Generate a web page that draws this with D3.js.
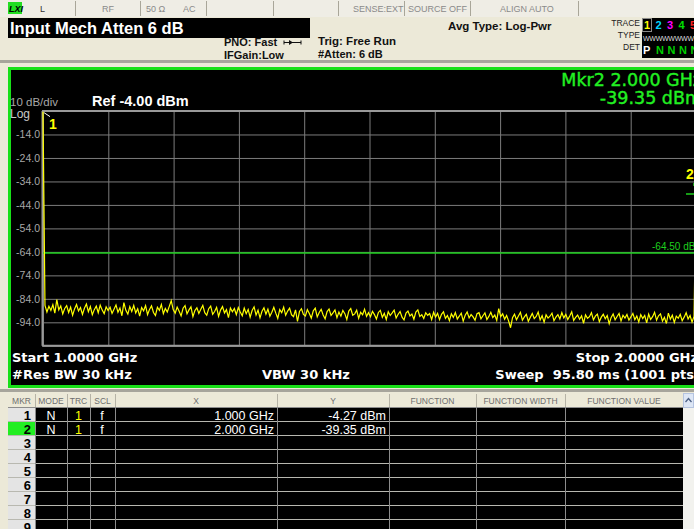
<!DOCTYPE html>
<html><head><meta charset="utf-8">
<script src="https://cdn.jsdelivr.net/npm/d3@7"></script>
<style>
html,body{margin:0;padding:0;background:#ECE9D8;overflow:hidden}
svg{display:block}
text{white-space:pre}
</style></head><body>
<svg id="c" width="694" height="529"></svg>
<script>
// ---------- data ----------
const startFreqGHz = 1.0, stopFreqGHz = 2.0;
const yDomain = [-104, -4];               // ref level -4 dBm, 10 dB/div
const yTickValues = [-14, -24, -34, -44, -54, -64, -74, -84, -94];
const yGridValues = [-4, -14, -24, -34, -44, -54, -64, -74, -84, -94, -104];
const xGridValues = [1.0, 1.1, 1.2, 1.3, 1.4, 1.5, 1.6, 1.7, 1.8, 1.9, 2.0];
const displayLineDbm = -64.5;
const traceValues = [
  -4.27,
  -86.8,-89.6,-87.2,-88.9,-86.5,-90.1,-84.3,-88.7,-87.0,-90.4,-88.1,-86.9,-89.8,-87.5,-91.0,-88.3,-86.4,-89.2,-87.7,-90.6,-88.0,-86.2,-89.5,-87.3,-90.8,-88.6,-87.1,-89.9,-86.7,-88.8,-90.3,-87.4,-89.0,
  -87.6,-90.2,-88.4,-86.6,-89.7,-87.9,-91.2,-85.6,-88.9,-90.5,-87.3,-89.4,-86.8,-90.0,-88.2,-91.4,-87.7,-89.1,-86.9,-90.7,-88.5,-87.0,-89.8,-91.1,-87.6,-88.9,-86.4,-90.3,-88.1,-89.6,-87.2,-84.8,-88.6,
  -90.1,-87.5,-89.3,-91.3,-88.0,-86.9,-90.4,-88.7,-87.4,-91.6,-89.0,-87.8,-90.2,-88.4,-86.8,-89.9,-91.0,-88.2,-87.1,-90.6,-89.4,-87.6,-91.5,-88.8,-87.3,-90.0,-88.6,-92.0,-87.9,-89.5,-88.1,-90.7,-87.7,
  -89.6,-91.2,-87.9,-90.3,-88.5,-91.8,-89.0,-87.4,-90.9,-88.8,-92.1,-89.3,-87.8,-90.5,-88.4,-91.4,-89.7,-87.6,-90.1,-92.3,-88.6,-89.9,-87.5,-91.0,-89.2,-88.0,-90.8,-91.6,-88.7,-93.6,-89.4,-88.2,-90.6,
  -91.3,-88.6,-90.2,-92.2,-89.1,-88.0,-91.7,-89.8,-88.5,-90.9,-92.5,-89.4,-88.3,-91.1,-90.0,-88.7,-92.0,-89.6,-91.4,-88.9,-90.3,-92.8,-89.2,-88.1,-91.0,-90.4,-88.8,-92.3,-89.7,-90.8,-88.4,-91.5,-89.9,
  -91.6,-89.3,-90.7,-92.6,-89.8,-88.9,-91.9,-90.2,-92.8,-89.5,-91.1,-90.0,-88.8,-92.2,-90.6,-89.4,-91.8,-93.0,-90.1,-89.2,-91.3,-90.5,-92.7,-89.6,-88.7,-91.5,-90.8,-92.4,-89.9,-91.0,-90.3,-92.9,-89.7,
  -91.8,-90.2,-92.9,-90.6,-89.5,-92.3,-91.1,-93.3,-90.4,-91.9,-89.8,-92.6,-91.4,-90.1,-93.5,-91.0,-89.6,-92.1,-90.7,-91.7,-93.1,-90.3,-89.9,-92.5,-91.2,-90.0,-92.8,-91.5,-89.7,-92.0,-90.9,-93.2,-88.2,
  -91.6,-90.4,-92.7,-91.1,-93.4,-96.3,-92.0,-90.5,-92.9,-91.3,-89.8,-93.1,-91.7,-90.6,-93.6,-91.9,-90.2,-92.4,-91.5,-89.6,-93.0,-91.2,-93.9,-90.8,-92.2,-91.4,-90.1,-93.3,-91.8,-90.7,-92.6,-89.9,-92.1,
  -90.6,-92.8,-91.3,-89.5,-93.2,-91.9,-90.9,-92.7,-91.2,-94.4,-90.8,-92.3,-91.6,-89.9,-93.0,-91.4,-90.5,-93.7,-91.8,-90.6,-92.5,-91.1,-94.6,-91.9,-90.4,-92.9,-91.5,-90.2,-93.4,-91.0,-92.2,-90.7,-93.1,
  -91.7,-90.2,-92.9,-91.3,-93.8,-90.7,-92.4,-91.1,-94.2,-90.5,-92.8,-91.6,-89.7,-93.1,-91.2,-90.4,-93.5,-91.9,-94.5,-90.1,-92.7,-91.0,-94.0,-91.4,-92.3,-90.6,-93.3,-91.8,-89.9,-92.6,-91.1,-93.9,-91.5,
  -39.35
];
const markerIds   = [1, 2];
const markerFreqs = [1.000, 2.000];
const markerAmps  = [-4.27, -39.35];
const tableHeaders = ["MKR", "MODE", "TRC", "SCL", "X", "Y", "FUNCTION", "FUNCTION WIDTH", "FUNCTION VALUE"];
const tableRowIds  = [1, 2, 3, 4, 5, 6, 7, 8, 9];
const tableModes   = ["N", "N"];
const tableTraces  = ["1", "1"];
const tableScales  = ["f", "f"];
const tableX       = ["1.000 GHz", "2.000 GHz"];
const tableY       = ["-4.27 dBm", "-39.35 dBm"];

// ---------- drawing ----------
const svg = d3.select("#c");
const SANS = "'Liberation Sans', Arial, sans-serif";
const DJ = "'DejaVu Sans', Verdana, sans-serif";
const BG = "#ECE9D8";

svg.append("rect").attr("width", 694).attr("height", 529).attr("fill", BG);

// --- top status row
svg.append("rect").attr("x", 0).attr("y", 0).attr("width", 694).attr("height", 17).attr("fill", "#EFEDE5");
[75, 140, 206, 273, 338, 404, 470, 578].forEach(xx => {
  svg.append("line").attr("x1", xx + .5).attr("x2", xx + .5).attr("y1", 1).attr("y2", 16)
    .attr("stroke", "#A9A699");
});
svg.append("rect").attr("x", 8).attr("y", 2).attr("width", 14).attr("height", 12).attr("fill", "#22DD22");
svg.append("text").attr("x", 9).attr("y", 12).text("LXI")
  .attr("font-family", SANS).attr("font-size", 9).attr("font-weight", "bold").attr("font-style", "italic").attr("fill", "#000");
const statusTexts = [["L", 40], ["RF", 102], ["50 Ω", 146], ["AC", 183], ["SENSE:EXT", 353], ["SOURCE OFF", 408], ["ALIGN AUTO", 500]];
statusTexts.forEach(([t, xx]) => {
  svg.append("text").attr("x", xx).attr("y", 12).text(t)
    .attr("font-family", SANS).attr("font-size", 9).attr("fill", t === "L" ? "#333" : "#8A8A8A");
});

// --- title box
svg.append("rect").attr("x", 8).attr("y", 18).attr("width", 302).attr("height", 20).attr("fill", "#000");
svg.append("text").attr("x", 10).attr("y", 34).text("Input Mech Atten 6 dB")
  .attr("font-family", SANS).attr("font-size", 16.5).attr("font-weight", "bold").attr("fill", "#fff");

function hdr(t, xx, yy, size, anchor) {
  svg.append("text").attr("x", xx).attr("y", yy).text(t)
    .attr("font-family", SANS).attr("font-size", size).attr("font-weight", "bold")
    .attr("text-anchor", anchor || "start").attr("fill", "#111");
}
hdr("PNO: Fast", 224, 46, 11);
hdr("IFGain:Low", 224, 59, 11);
hdr("Trig: Free Run", 318, 45, 11.5);
hdr("#Atten: 6 dB", 318, 58, 11);
hdr("Avg Type: Log-Pwr", 448, 30, 11.5);
// arrow icon
svg.append("line").attr("x1", 284).attr("x2", 301).attr("y1", 42.5).attr("y2", 42.5).attr("stroke", "#111");
svg.append("path").attr("d", "M289,40 L293,42.5 L289,45 Z").attr("fill", "#111");
svg.append("path").attr("d", "M284,40.5 L284,44.5 M301,40.5 L301,44.5").attr("stroke", "#111");

// trace info box
[["TRACE", 26], ["TYPE", 38], ["DET", 50]].forEach(([t, yy]) => {
  svg.append("text").attr("x", 640).attr("y", yy).text(t).attr("text-anchor", "end")
    .attr("font-family", SANS).attr("font-size", 8.5).attr("fill", "#222");
});
svg.append("rect").attr("x", 642).attr("y", 18).attr("width", 52).attr("height", 40).attr("fill", "#000");
svg.append("rect").attr("x", 642.5).attr("y", 18.5).attr("width", 9).attr("height", 13).attr("fill", "none").attr("stroke", "#8a8a8a");
const traceNumColors = ["#FFFF00", "#00D8FF", "#FF00FF", "#00E000", "#FF2020"];
traceNumColors.forEach((c, i) => {
  svg.append("text").attr("x", 644 + i * 11.5).attr("y", 29).text(i + 1)
    .attr("font-family", SANS).attr("font-size", 11).attr("font-weight", "bold").attr("fill", c);
});
svg.append("text").attr("x", 643).attr("y", 41).text("WWWWWWWW")
  .attr("font-family", SANS).attr("font-size", 7).attr("fill", "#ddd").attr("textLength", 51);
svg.append("text").attr("x", 643).attr("y", 54).text("P")
  .attr("font-family", SANS).attr("font-size", 11).attr("font-weight", "bold").attr("fill", "#fff");
[0, 1, 2, 3].forEach(i => {
  svg.append("text").attr("x", 656 + i * 11.5).attr("y", 54).text("N")
    .attr("font-family", SANS).attr("font-size", 11).attr("font-weight", "bold").attr("fill", "#00D000");
});

// header bottom separator
svg.append("rect").attr("x", 0).attr("y", 60).attr("width", 694).attr("height", 3).attr("fill", "#A7A59C");

// --- graph panel
svg.append("rect").attr("x", 9.5).attr("y", 68.5).attr("width", 700).attr("height", 318)
  .attr("fill", "#000").attr("stroke", "#18E018").attr("stroke-width", 3);

const x = d3.scaleLinear().domain([startFreqGHz, stopFreqGHz]).range([43, 696]);
const y = d3.scaleLinear().domain(yDomain).range([345.8, 111]);
const fmt = (v, d) => v.toFixed(d);   // plain hyphen-minus like the instrument

// grid via axes
const plotH = y(-104) - y(-4);
const gx = svg.append("g").attr("transform", `translate(0,${y(-4)})`)
  .call(d3.axisBottom(x).tickValues(xGridValues).tickSize(plotH).tickSizeOuter(0).tickFormat(""));
gx.select(".domain").remove();
gx.selectAll(".tick line").attr("stroke", "#7C7C7C").attr("stroke-width", 1);
const gy = svg.append("g").attr("transform", `translate(${x(startFreqGHz)},0)`)
  .call(d3.axisRight(y).tickValues(yGridValues).tickSize(x(stopFreqGHz) - x(startFreqGHz)).tickFormat(""));
gy.select(".domain").remove();
gy.selectAll(".tick line").attr("stroke", "#7C7C7C").attr("stroke-width", 1);
// frame lines (brighter)
svg.append("line").attr("x1", 42).attr("x2", 700).attr("y1", y(-4)).attr("y2", y(-4)).attr("stroke", "#9A9A9A").attr("stroke-width", 2);
svg.append("line").attr("x1", 42).attr("x2", 700).attr("y1", y(-104)).attr("y2", y(-104)).attr("stroke", "#9A9A9A").attr("stroke-width", 2);
svg.append("line").attr("x1", x(startFreqGHz) - 0.5).attr("x2", x(startFreqGHz) - 0.5).attr("y1", y(-4)).attr("y2", y(-104)).attr("stroke", "#9A9A9A").attr("stroke-width", 2);

// y labels via axis
const yl = svg.append("g").attr("transform", "translate(41,0)")
  .call(d3.axisLeft(y).tickValues(yTickValues).tickSize(0).tickPadding(1).tickFormat(d => fmt(d, 1)));
yl.select(".domain").remove();
yl.selectAll("text").attr("font-family", SANS).attr("font-size", 10.5).attr("fill", "#A8A8A8");

// display line
svg.append("line").attr("x1", x(startFreqGHz)).attr("x2", 700).attr("y1", y(displayLineDbm)).attr("y2", y(displayLineDbm))
  .attr("stroke", "#1ED01E").attr("stroke-width", 1.5);
svg.append("text").attr("x", 652).attr("y", y(displayLineDbm) - 3).text(fmt(displayLineDbm, 2) + " dBm")
  .attr("font-family", SANS).attr("font-size", 10).attr("fill", "#1ED01E");

// trace
const n = traceValues.length;
const freqs = traceValues.map((_, i) => startFreqGHz + i * (stopFreqGHz - startFreqGHz) / (n - 1));
const line = d3.line().x((d, i) => x(freqs[i])).y(d => y(d));
svg.append("path").datum(traceValues).attr("d", line)
  .attr("fill", "none").attr("stroke", "#FFFF00").attr("stroke-width", 1.2).attr("stroke-linejoin", "miter");

// markers
const m1x = x(markerFreqs[0]), m1y = y(markerAmps[0]);
svg.append("path").attr("d", `M${m1x + 1},${m1y + 1} L${m1x + 7},${m1y + 5}`).attr("stroke", "#fff").attr("stroke-width", 1);
svg.append("text").attr("x", m1x + 6).attr("y", m1y + 17).text(markerIds[0])
  .attr("font-family", SANS).attr("font-size", 14).attr("font-weight", "bold").attr("fill", "#FFFF00");
const m2x = x(markerFreqs[1]), m2y = y(markerAmps[1]);
svg.append("path").attr("d", `M${m2x - 10},${m2y} L${m2x},${m2y} M${m2x - 2},${m2y - 11} L${m2x - 2},${m2y - 8}`)
  .attr("stroke", "#1ED01E").attr("stroke-width", 1.5);
svg.append("text").attr("x", m2x - 10).attr("y", m2y - 15).text(markerIds[1])
  .attr("font-family", SANS).attr("font-size", 14).attr("font-weight", "bold").attr("fill", "#FFFF00");

// graph texts
function gt(t, xx, yy, size, color, weight, anchor, fam) {
  return svg.append("text").attr("x", xx).attr("y", yy).text(t)
    .attr("font-family", fam || DJ).attr("font-size", size).attr("fill", color)
    .attr("font-weight", weight || "normal").attr("text-anchor", anchor || "start");
}
gt("Mkr" + markerIds[1] + " " + fmt(markerFreqs[1], 3) + " GHz", 702, 86, 17.5, "#22F022", "normal", "end")
  .attr("stroke", "#22F022").attr("stroke-width", 0.4);
gt(fmt(markerAmps[1], 2) + " dBm", 702, 104, 17.5, "#22F022", "normal", "end")
  .attr("stroke", "#22F022").attr("stroke-width", 0.4);
gt("10 dB/div", 10, 106, 11.5, "#A8A8A8", "normal", "start", SANS);
gt("Log", 10, 118, 12, "#C8C8C8", "normal", "start", SANS);
gt("Ref " + fmt(yDomain[1], 2) + " dBm", 92, 106, 14.5, "#fff", "bold", "start", SANS);
gt("Start " + fmt(startFreqGHz, 4) + " GHz", 12, 362, 13, "#fff", "bold");
gt("#Res BW 30 kHz", 12, 379, 13, "#fff", "bold");
gt("VBW 30 kHz", 262, 379, 13, "#fff", "bold");
gt("Stop " + fmt(stopFreqGHz, 4) + " GHz", 698, 362, 13, "#fff", "bold", "end");
gt("Sweep  95.80 ms (1001 pts)", 700, 379, 13, "#fff", "bold", "end");

// --- marker table
svg.append("rect").attr("x", 0).attr("y", 389).attr("width", 694).attr("height", 3).attr("fill", "#A7A59C");
const colEdges = [8, 35, 67, 90, 115, 277, 389, 476, 565, 683];
const rowTop = 408, rowH = 14;
// header
svg.append("rect").attr("x", 8).attr("y", 393).attr("width", 675).attr("height", 15).attr("fill", "#ECE9D8");
tableHeaders.forEach((h, i) => {
  const cx = (colEdges[i] + colEdges[i + 1]) / 2;
  svg.append("text").attr("x", cx).attr("y", 404).text(h).attr("text-anchor", "middle")
    .attr("font-family", SANS).attr("font-size", 8.5).attr("fill", "#6E6E6E");
  if (i > 0) svg.append("line").attr("x1", colEdges[i] + .5).attr("x2", colEdges[i] + .5).attr("y1", 394).attr("y2", 407).attr("stroke", "#B6B3A6");
});
// body
svg.append("rect").attr("x", 35).attr("y", rowTop).attr("width", 648).attr("height", 130).attr("fill", "#000");
tableRowIds.forEach((id, r) => {
  const ry = rowTop + r * rowH;
  svg.append("rect").attr("x", 8).attr("y", ry).attr("width", 27).attr("height", rowH)
    .attr("fill", id === 2 ? "#22EE22" : "#E4E4E4");
  svg.append("text").attr("x", 31).attr("y", ry + 12).text(id).attr("text-anchor", "end")
    .attr("font-family", SANS).attr("font-size", 13).attr("font-weight", "bold").attr("fill", "#000");
  svg.append("line").attr("x1", 8).attr("x2", 683).attr("y1", ry + rowH - .5).attr("y2", ry + rowH - .5)
    .attr("stroke", "#B8B8B0").attr("stroke-width", 1);
  if (r < tableModes.length) {
    const cellT = (t, xx, anchor, col) => svg.append("text").attr("x", xx).attr("y", ry + 12).text(t)
      .attr("text-anchor", anchor).attr("font-family", SANS).attr("font-size", 12.5).attr("fill", col);
    cellT(tableModes[r], 51, "middle", "#fff");
    cellT(tableTraces[r], 78.5, "middle", "#FFFF00");
    cellT(tableScales[r], 102, "middle", "#fff");
    cellT(tableX[r], 274, "end", "#fff");
    cellT(tableY[r], 386, "end", "#fff");
  }
});
colEdges.slice(1, 9).forEach(cx => {
  svg.append("line").attr("x1", cx + .5).attr("x2", cx + .5).attr("y1", rowTop).attr("y2", 529)
    .attr("stroke", "#8C8C8C");
});
svg.append("line").attr("x1", 8).attr("x2", 683).attr("y1", rowTop - .5).attr("y2", rowTop - .5).attr("stroke", "#8C8C8C");
// scrollbar
svg.append("rect").attr("x", 683).attr("y", 393).attr("width", 11).attr("height", 136).attr("fill", "#F2F2EE");
svg.append("rect").attr("x", 683.5).attr("y", 393.5).attr("width", 10).attr("height", 14).attr("fill", "#DDE6F5").attr("stroke", "#B5C4E0");
svg.append("path").attr("d", "M685.5,402 L688.5,398.5 L691.5,402").attr("fill", "none").attr("stroke", "#4D6185").attr("stroke-width", 1.3);
</script>
</body></html>
